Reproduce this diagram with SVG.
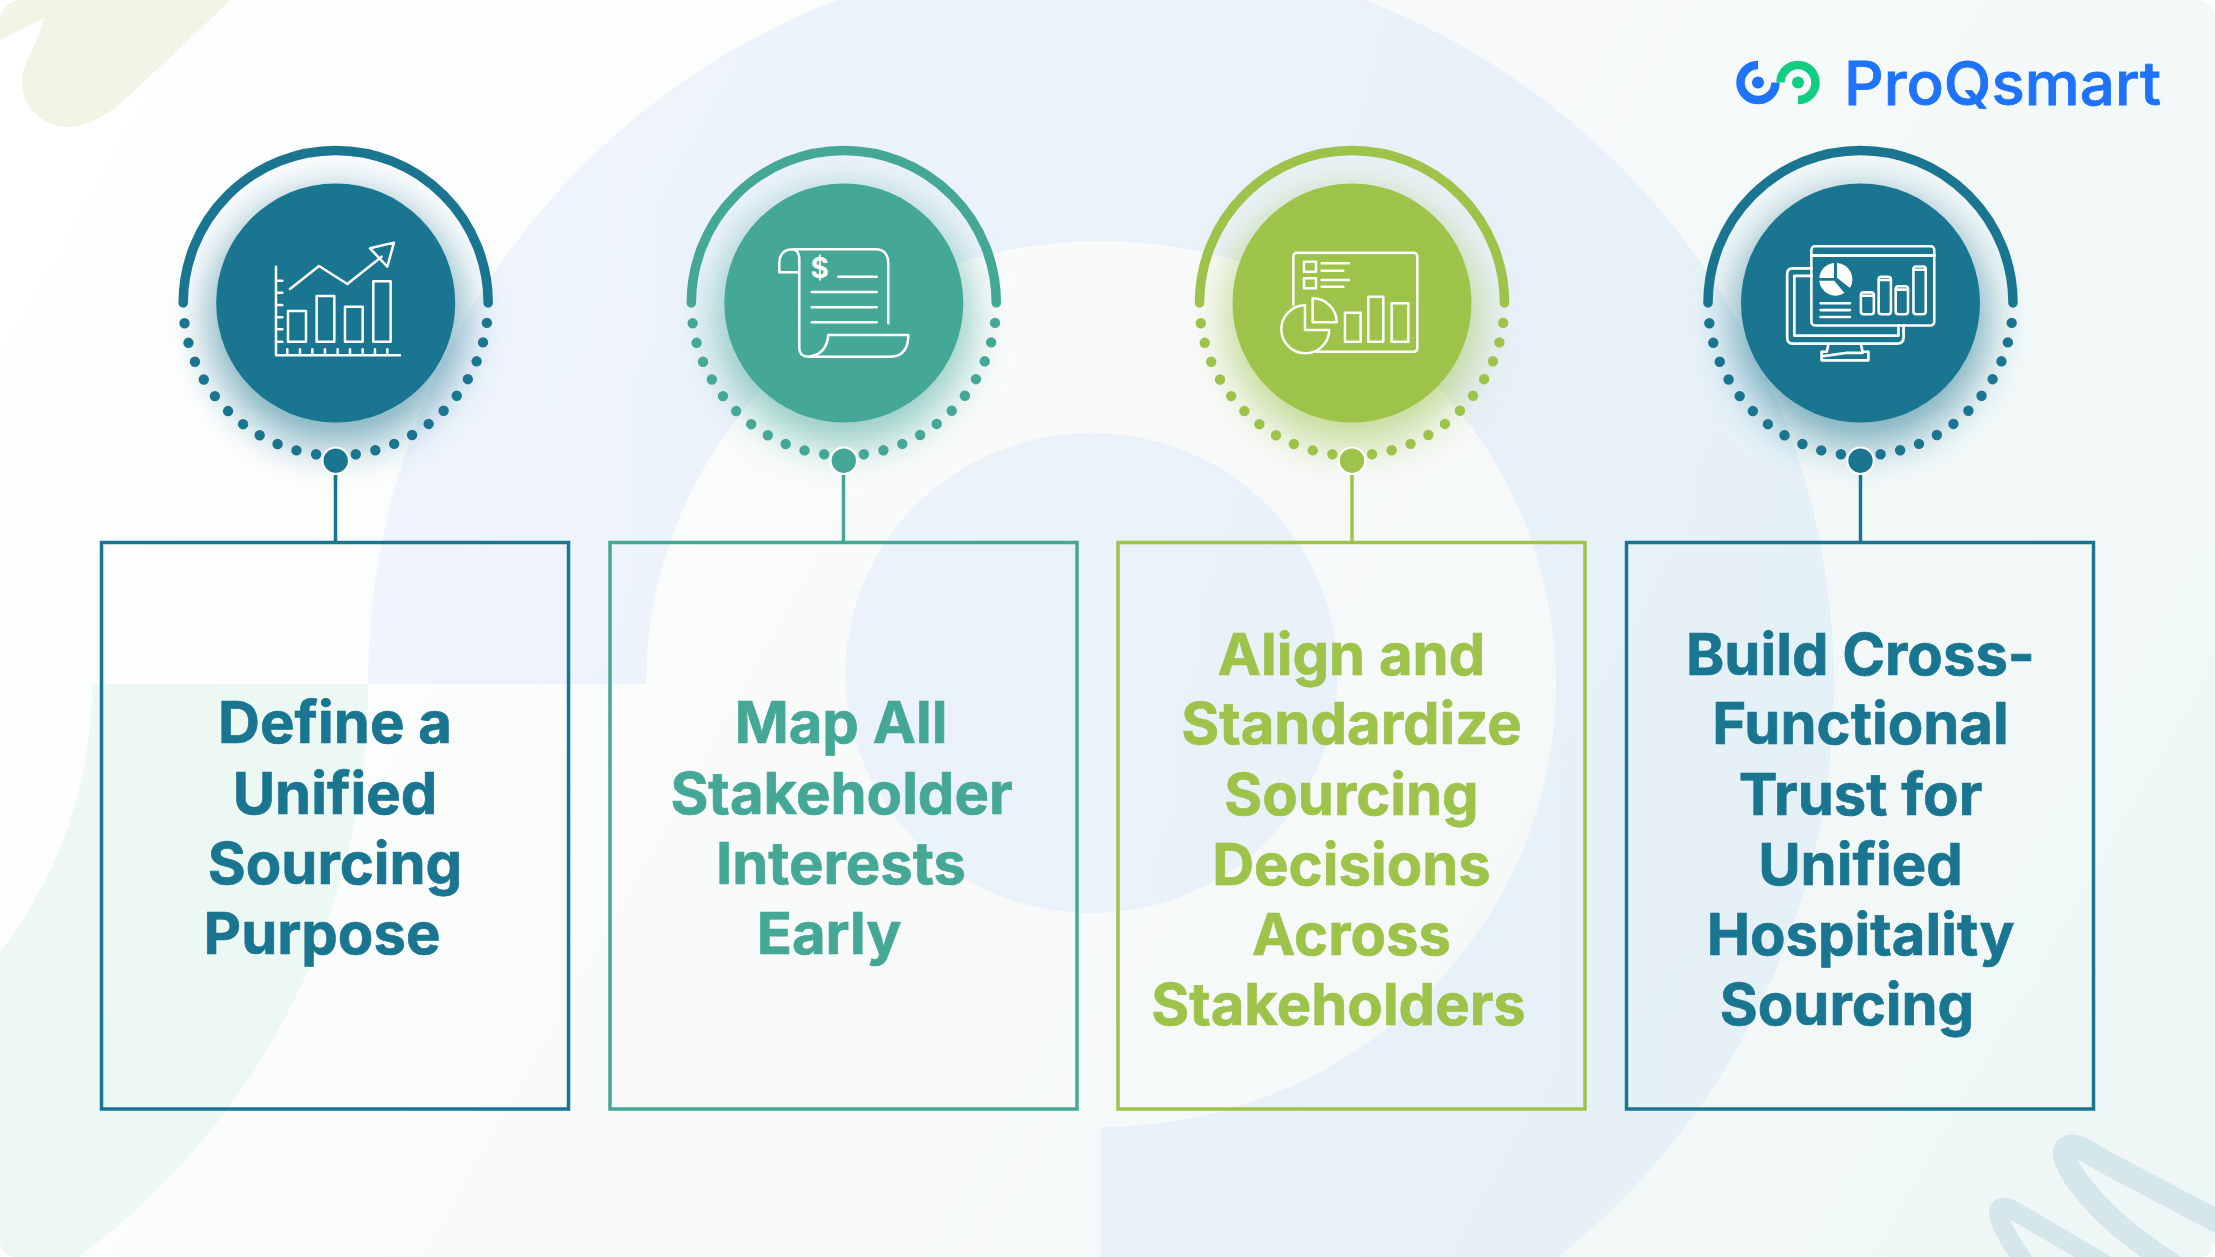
<svg xmlns="http://www.w3.org/2000/svg" xmlns:xlink="http://www.w3.org/1999/xlink" width="2215" height="1257" viewBox="0 0 2215 1257">
<style>
.teal{color:#1a7590}.sea{color:#45a896}.lime{color:#9dc34a}
.lbl{font-family:"Inter","Liberation Sans",sans-serif;font-weight:700;font-size:58px;text-anchor:middle;fill:currentColor;stroke:currentColor;stroke-width:.7px}
.box{fill:none;stroke:currentColor;stroke-width:3.5}
.ico{fill:none;stroke:#fff;stroke-width:7.5;stroke-linecap:round;stroke-linejoin:round}
.conn{stroke:currentColor;stroke-width:3.5;fill:none}
.ring{fill:url(#ringfill);opacity:.5}
</style>
<defs>
<linearGradient id="bg" x1="0" y1="0" x2="2215" y2="1257" gradientUnits="userSpaceOnUse"><stop offset="0" stop-color="#ffffff"/><stop offset=".5" stop-color="#f8fafa"/><stop offset="1" stop-color="#eef7f6"/></linearGradient>
<linearGradient id="ringfill" x1="368" y1="0" x2="1834" y2="0" gradientUnits="userSpaceOnUse"><stop offset="0" stop-color="#e2eafc"/><stop offset="1" stop-color="#d6e8f6"/></linearGradient>
<clipPath id="page"><rect width="2215" height="1257" rx="16"/></clipPath>
<filter id="soft" x="-50%" y="-50%" width="200%" height="200%"><feGaussianBlur stdDeviation="20"/></filter>
<g id="dial">
<circle cx="0" cy="16" r="128" fill="currentColor" opacity=".55" filter="url(#soft)"/>
<path d="M-152.500 0A152.500 152.500 0 0 1 152.500 0" fill="none" stroke="currentColor" stroke-width="9.500" stroke-linecap="round"/>
<path d="M151.200 19.900A152.500 152.500 0 0 1 -151.200 19.900" fill="none" stroke="currentColor" stroke-width="10.400" stroke-linecap="round" stroke-dasharray="0 19.940"/>
<circle cx="0" cy="0" r="119.500" fill="currentColor"/>
<circle cx="0" cy="157.700" r="13.200" fill="currentColor" stroke="#fff" stroke-width="2"/>
</g>
</defs>
<g clip-path="url(#page)">
<rect width="2215" height="1257" fill="url(#bg)"/>
<path class="ring" d="M368 684A733 733 0 1 1 1101 1417V1127A455 443 0 1 0 646 684Z"/>
<ellipse class="ring" cx="1091.500" cy="673" rx="246" ry="240"/>
<path d="M92 684H368A710 710 0 0 1 78 1257H0V952A434 434 0 0 0 92 684Z" fill="#ddf3ea" opacity=".5"/>
<path d="M0 20Q2 2 20 0H230C205 25 165 62 130 95C105 118 85 127 65 127C40 125 22 105 22 82C22 62 40 40 44 18L0 40Z" fill="#f1f5e6"/>
<path d="M2230 1228L2105 1162C2085 1150 2075 1143 2067 1147C2060 1152 2068 1168 2078 1182C2105 1218 2135 1240 2180 1270" fill="none" stroke="#d5e7ea" stroke-width="23" stroke-linecap="round" stroke-linejoin="round"/>
<path d="M2115 1270L2030 1220C2015 1212 2006 1204 2000 1208C1994 1213 2004 1232 2024 1262" fill="none" stroke="#d5e7ea" stroke-width="19" stroke-linecap="round" stroke-linejoin="round"/>
</g>
<g id="logo">
<path d="M1758 65A17.500 17.500 0 1 0 1775.500 82.500" fill="none" stroke="#1e73fa" stroke-width="8.500"/>
<circle cx="1758" cy="82.500" r="6" fill="#1e73fa"/>
<path d="M1780.500 82.500A17.500 17.500 0 1 1 1798 100" fill="none" stroke="#12ce84" stroke-width="8.500"/>
<circle cx="1798" cy="82.500" r="6" fill="#12ce84"/>
<text x="1844" y="104.500" font-family="Inter,'Liberation Sans',sans-serif" font-weight="500" font-size="60" fill="#1e73fa" stroke="#1e73fa" stroke-width=".8" textLength="317" lengthAdjust="spacingAndGlyphs">ProQsmart</text>
</g>
<g id="connectors">
<path class="conn teal" d="M335.500 473V542"/>
<path class="conn sea" d="M843.500 473V542"/>
<path class="conn lime" d="M1352 473V542"/>
<path class="conn teal" d="M1860.500 473V542"/>
</g>
<g id="node-1" class="teal">
<use xlink:href="#dial" href="#dial" transform="translate(335.700 303)"/>
<g class="ico" transform="translate(150 120) scale(.3333)">
<path d="M378 440V706H750M378 482H397M378 518H397M378 555H397M378 592H397M378 628H397M378 665H397M412 706V688M450 706V688M487 706V688M525 706V688M563 706V688M600 706V688M638 706V688M675 706V688M712 706V688"/>
<rect x="414" y="573" width="54" height="92"/><rect x="500" y="528" width="53" height="137"/><rect x="585" y="560" width="53" height="105"/><rect x="670" y="484" width="52" height="181"/>
<path d="M420 507L507 438L592 492L695 410M660 385L732 368L712 440Z"/>
</g>
<rect class="box" x="101.500" y="542.500" width="467" height="566.500"/>
<text class="lbl"><tspan x="335" y="743">Define a</tspan><tspan x="335" y="813.500">Unified</tspan><tspan x="335" y="883.500">Sourcing</tspan><tspan x="322" y="954">Purpose</tspan></text>
</g>
<g id="node-2" class="sea">
<use xlink:href="#dial" href="#dial" transform="translate(843.800 303)"/>
<g class="ico" transform="translate(660 120) scale(.3333)">
<path d="M400 388H645Q685 388 685 430V610M415 457H358V430Q358 388 400 388Q418 392 418 420V685Q418 710 445 710Q500 705 505 645H745Q745 710 690 710H445M535 470H650M455 516H650M455 562H650M455 607H650"/>
<text x="479" y="475" font-family="Inter,'Liberation Sans',sans-serif" font-weight="700" font-size="84" text-anchor="middle" fill="#fff" stroke="none">$</text>
</g>
<rect class="box" x="610" y="542.500" width="467" height="566.500"/>
<text class="lbl"><tspan x="841" y="743">Map All</tspan><tspan x="841.500" y="813.500">Stakeholder</tspan><tspan x="841" y="883.500">Interests</tspan><tspan x="829" y="954">Early</tspan></text>
</g>
<g id="node-3" class="lime">
<use xlink:href="#dial" href="#dial" transform="translate(1352 303)"/>
<g class="ico" transform="translate(1170 120) scale(.3333)">
<path d="M370 555V410Q370 398 382 398H730Q742 398 742 410V683Q742 695 730 695H440"/>
<rect x="402" y="425" width="36" height="30"/><rect x="402" y="475" width="36" height="30"/>
<path d="M455 430H537M455 452H520M455 480H537M455 500H520"/>
<rect x="525" y="578" width="47" height="87"/><rect x="595" y="530" width="45" height="135"/><rect x="665" y="550" width="50" height="115"/>
<path d="M405 556A72 72 0 1 0 478 630H405ZM428 535A72 72 0 0 1 500 607H428Z"/>
</g>
<rect class="box" x="1118" y="542.500" width="467" height="566.500"/>
<text class="lbl"><tspan x="1351.500" y="674.500">Align and</tspan><tspan x="1351.500" y="744">Standardize</tspan><tspan x="1351.500" y="814.500">Sourcing</tspan><tspan x="1351.500" y="885">Decisions</tspan><tspan x="1351.500" y="955">Across</tspan><tspan x="1338.500" y="1025">Stakeholders</tspan></text>
</g>
<g id="node-4" class="teal">
<use xlink:href="#dial" href="#dial" transform="translate(1860.500 303)"/>
<g class="ico" transform="translate(1680 20) scale(.3413)">
<rect x="385" y="663" width="360" height="232" rx="10"/>
<path d="M385 690H745" stroke-width="9"/>
<path d="M385 728H330Q314 728 314 745V930Q314 948 330 948H635Q655 948 655 930V895M385 750H335V925H640V895M435 950L430 972H415V997H552V972H535L530 950M420 985L490 975H535" stroke-width="8"/>
<path d="M451 756V712A48 48 0 0 0 408 756ZM460 755V712A48 48 0 0 1 498 785ZM408 764H452L482 800A48 48 0 0 1 408 764Z" fill="#fff" stroke="none"/>
<path d="M412 830H498M412 850H498M412 870H498"/>
<rect x="530" y="798" width="38" height="64" rx="8"/><path d="M530 808H568"/>
<rect x="582" y="752" width="36" height="110" rx="8"/><path d="M582 762H618"/>
<rect x="632" y="780" width="36" height="82" rx="8"/><path d="M632 790H668"/>
<rect x="684" y="722" width="36" height="140" rx="8"/><path d="M684 732H720"/>
</g>
<rect class="box" x="1626.500" y="542.500" width="467" height="566.500"/>
<text class="lbl"><tspan x="1860.500" y="674.500">Build Cross-</tspan><tspan x="1860.500" y="744">Functional</tspan><tspan x="1860.500" y="814.500">Trust for</tspan><tspan x="1860.500" y="885">Unified</tspan><tspan x="1860.500" y="955">Hospitality</tspan><tspan x="1847" y="1025">Sourcing</tspan></text>
</g>
</svg>
